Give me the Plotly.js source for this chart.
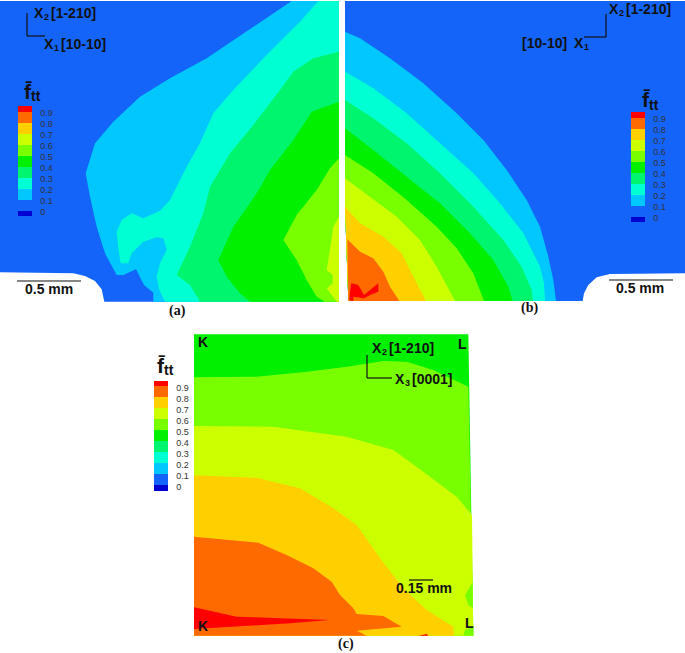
<!DOCTYPE html>
<html><head><meta charset="utf-8">
<script src="https://cdn.plot.ly/plotly-3.0.1.min.js"></script>
<style>html,body{margin:0;padding:0;background:#fff}#c{width:685px;height:653px}</style>
</head><body><div id="c"></div>
<script>
// Contour band colours, lowest (below 0) to highest (above 0.9)
const bandColors = ['#0000d2','#1464fa','#00c8ff','#00ffd2','#00f56e','#00f000','#78ff00','#ccff00','#ffd000','#ff6a00','#ff0000'];
const tickValues = [0,0.1,0.2,0.3,0.4,0.5,0.6,0.7,0.8,0.9];
const tickLabels = ['0','0.1','0.2','0.3','0.4','0.5','0.6','0.7','0.8','0.9'];

// Panel (a) iso-bands
const aBlue = [[0,3],[1017,3],[1017,905],[313,905],[305,868],[285,843],[255,828],[220,820],[0,817]];
const aCyan = [[875,3],[820,40],[730,100],[620,175],[510,235],[420,290],[340,365],[285,430],[257,520],[270,590],[290,680],[315,760],[350,825],[370,825],[408,808],[432,855],[460,878],[460,905],[1017,905],[1017,3]];
const aTeal = [[955,3],[900,65],[800,165],[700,270],[640,340],[600,430],[560,500],[510,600],[480,632],[430,655],[395,640],[365,660],[350,695],[355,745],[362,790],[385,790],[395,760],[430,725],[470,712],[490,715],[500,750],[480,790],[470,830],[478,870],[495,905],[1017,905],[1017,3]];
const aSpring = [[1017,155],[940,175],[880,215],[840,270],[760,375],[690,460],[630,560],[610,640],[570,740],[530,825],[570,855],[600,905],[1017,905]];
const aGreen = [[1017,305],[935,335],[880,420],[810,510],[770,580],[700,680],[655,780],[680,830],[720,880],[750,905],[1017,905]];
const aLime = [[1017,475],[990,505],[950,570],[890,645],[850,720],[890,780],[920,840],[950,890],[975,905],[1017,905]];
const aYellow = [[1017,650],[1000,680],[985,780],[980,810],[998,825],[998,850],[980,865],[998,890],[1010,905],[1017,905]];

// Panel (b)
const bBlue = [[15,3],[1035,3],[1035,820],[810,822],[770,832],[745,855],[732,880],[728,903],[25,903],[15,620]];
const bCyan = [[15,95],[60,115],[150,175],[250,250],[350,340],[430,420],[500,510],[560,600],[600,680],[625,770],[640,840],[648,903],[25,903],[15,620]];
const bTeal = [[15,215],[100,265],[200,340],[300,430],[400,520],[480,610],[550,700],[600,800],[612,850],[615,903],[25,903],[15,620]];
const bSpring = [[15,300],[100,355],[200,430],[300,520],[400,620],[490,720],[545,800],[575,870],[578,903],[25,903],[15,620]];
const bGreen = [[15,385],[100,450],[200,530],[300,610],[390,700],[460,780],[505,860],[518,903],[25,903],[15,620]];
const bLime = [[15,465],[100,520],[200,600],[290,680],[350,745],[400,820],[432,903],[25,903],[15,620]];
const bYellow = [[15,535],[90,590],[170,650],[240,720],[290,800],[345,903],[25,903],[15,620]];
const bGold = [[15,620],[60,670],[130,710],[185,760],[220,830],[258,903],[25,903]];
const bOrange = [[22,718],[60,755],[100,775],[130,815],[150,860],[178,903],[25,903]];
const bRed = [[34,850],[55,855],[72,885],[90,870],[115,850],[115,875],[90,885],[72,895],[40,890],[40,903],[28,900],[30,875]];

// Panel (c)
const cGreen = [[162,28],[985,28],[1000,932],[162,932]];
const cLime = [[162,157],[350,155],[500,140],[620,125],[730,108],[800,110],[880,135],[985,185],[1000,932],[162,932]];
const cYellow = [[162,303],[400,305],[620,335],[760,375],[850,440],[950,515],[996,570],[1000,932],[162,932]];
const cLimeBlob = [[998,772],[975,810],[985,840],[999,850]];
const cLimeCorner = [[1000,905],[975,915],[970,932],[1000,932]];
const cGold = [[162,451],[350,458],[480,490],[580,550],[650,600],[720,700],[790,790],[860,855],[940,905],[942,932],[162,932]];
const cOrange = [[162,635],[355,653],[440,690],[520,730],[575,770],[600,810],[640,850],[650,867],[730,873],[785,905],[650,917],[680,932],[162,932]];
const cRed = [[162,847],[290,875],[570,885],[450,895],[162,912]];
const cRedTip = [[835,932],[860,927],[865,932]];

const panels = [
 {ax:'', px:[0,340], py:[0,302], rx:[0,1020], ry:[906,0], bands:[[1,aBlue],[2,aCyan],[3,aTeal],[4,aSpring],[5,aGreen],[6,aLime],[7,aYellow]]},
 {ax:'2', px:[340,685], py:[0,302], rx:[0,1035], ry:[906,0], bands:[[1,bBlue],[2,bCyan],[3,bTeal],[4,bSpring],[5,bGreen],[6,bLime],[7,bYellow],[8,bGold],[9,bOrange],[10,bRed]]},
 {ax:'3', px:[140,485], py:[325,653], rx:[0,1035], ry:[984,0], bands:[[5,cGreen],[6,cLime],[7,cYellow],[6,cLimeBlob],[6,cLimeCorner],[8,cGold],[9,cOrange],[10,cRed],[10,cRedTip]]}
];

const W=685,H=653;
const data=[]; const layout={width:W,height:H,margin:{l:0,r:0,t:0,b:0},paper_bgcolor:'#fff',plot_bgcolor:'rgba(0,0,0,0)',showlegend:false,hovermode:false,annotations:[],shapes:[]};
panels.forEach(p=>{
  const xa='xaxis'+p.ax, ya='yaxis'+p.ax;
  layout[xa]={domain:[p.px[0]/W,p.px[1]/W],range:p.rx,visible:false,fixedrange:true,anchor:'y'+p.ax};
  layout[ya]={domain:[1-p.py[1]/H,1-p.py[0]/H],range:p.ry,visible:false,fixedrange:true,anchor:'x'+p.ax};
  p.bands.forEach(([b,v])=>data.push({type:'scatter',mode:'lines',xaxis:'x'+p.ax,yaxis:'y'+p.ax,
    x:v.map(q=>q[0]),y:v.map(q=>q[1]),fill:'toself',fillcolor:bandColors[b],line:{width:0},hoverinfo:'skip'}));
});

// stepped colour scale from the band colours
const cs=[]; bandColors.forEach((c,i)=>{
  const lo=i===0?0:(i-0.5)/10, hi=i===10?1:(i+0.5)/10; cs.push([lo,c],[hi,c]);
});
function bar(ax,left,top,height){
  data.push({type:'scatter',mode:'markers',xaxis:'x'+ax,yaxis:'y'+ax,x:[-500],y:[-500],hoverinfo:'skip',
    marker:{color:[0.5],cmin:-0.05,cmax:0.95,colorscale:cs,showscale:true,
      colorbar:{x:left/W,xanchor:'left',xpad:0,y:1-top/H,yanchor:'top',ypad:0,lenmode:'pixels',len:height,thicknessmode:'pixels',thickness:14,
        outlinewidth:0,tickmode:'array',tickvals:tickValues.map(v=>v-0.012),ticktext:tickLabels,ticks:'outside',ticklen:7,tickcolor:'rgba(0,0,0,0)',
        tickfont:{family:'Liberation Sans',size:9,color:'#333'}}}});
}
bar('',18,106,110); bar('2',631,112,110); bar('3',154,381,110);

const sans='Liberation Sans', serif='Liberation Serif';
function t(text,x,y,size,family,anchor){
  layout.annotations.push({text:text,xref:'paper',yref:'paper',x:x/W,y:1-y/H,xanchor:anchor||'left',yanchor:'middle',showarrow:false,
    font:{family:family||sans,size:size,color:'#111',weight:700},borderpad:0});
}
function sym(base,sub,rest,x,y){ // base letter, smaller lowered index, trailing label
  t(base,x,y,14); t(sub,x+10,y+4,9); if(rest) t(rest,x+17,y,14);
}
function ftt(x,y){ t('f̄',x,y,21); t('tt',x+7,y+5,14); }
function pline(pts){
  for(let i=0;i<pts.length-1;i++) layout.shapes.push({type:'line',xref:'paper',yref:'paper',x0:pts[i][0]/W,x1:pts[i+1][0]/W,y0:1-pts[i][1]/H,y1:1-pts[i+1][1]/H,line:{color:'#111',width:1.2}});
}
// Panel (a)
sym('X','2','[1-210]',33,13); sym('X','1','[10-10]',43,44);
pline([[27,13],[27,36],[45,36]]);
ftt(23,91);
pline([[17,281],[81,281]]); t('0.5 mm',49,289,14,sans,'center');
t('(a)',177,311,14,serif,'center');
// Panel (b)
sym('X','2','[1-210]',608,9);
t('[10-10]',521,43,14); sym('X','1','',573,43);
pline([[606,14],[606,37],[584,37]]);
ftt(641,100);
pline([[609,280],[673,280]]); t('0.5 mm',640,288,14,sans,'center');
t('(b)',529,308,14,serif,'center');
// Panel (c)
sym('X','2','[1-210]',371,348); sym('X','3','[0001]',394,379);
pline([[367,355],[367,378],[392,378]]);
ftt(156,365);
t('K',197,342,14); t('L',457,344,14); t('K',197,626,14); t('L',464,623,14);
pline([[409,580],[433,580]]); t('0.15 mm',424,588,14,sans,'center');
t('(c)',346,644,14,serif,'center');

Plotly.newPlot('c',data,layout,{displayModeBar:false,staticPlot:true});
</script></body></html>
